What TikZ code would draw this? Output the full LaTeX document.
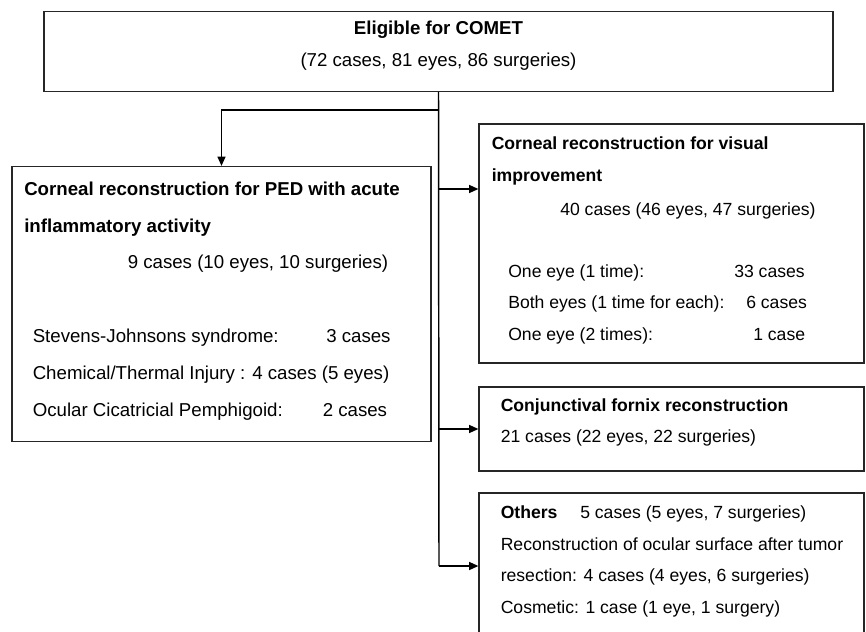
\documentclass[tikz,border=0pt]{standalone}
\usepackage{fontspec}
\setmainfont{Liberation Sans}
\usetikzlibrary{arrows.meta}
\begin{document}
\begin{tikzpicture}[x=0.75pt,y=-0.75pt,
  box/.style={draw=black!85,line width=0.9pt,inner sep=0pt},
  conn/.style={line width=1.1pt},
  arr/.style={conn,-{Triangle[length=7pt,width=6pt]}},
  txt/.style={anchor=base west,inner sep=0pt,font=\fontsize{14}{16}\selectfont},
  btxt/.style={txt,font=\fontsize{14}{16}\selectfont\bfseries},
  rtxt/.style={anchor=base west,inner sep=0pt,font=\fontsize{13.2}{16}\selectfont},
  rbtxt/.style={rtxt,font=\fontsize{13.2}{16}\selectfont\bfseries},
  ctxt/.style={txt,anchor=base}]
\useasboundingbox (0,0) rectangle (866,631);
\clip (0,0) rectangle (866,631);
% boxes
\node[box,minimum width=789*0.75pt,minimum height=80*0.75pt] (top) at (438.5,51.5) {};
\node[box,minimum width=419*0.75pt,minimum height=275*0.75pt] (left) at (221.5,304) {};
\node[box,minimum width=385*0.75pt,minimum height=239*0.75pt] (vis) at (671.5,243.5) {};
\node[box,minimum width=385*0.75pt,minimum height=84*0.75pt] (conj) at (671.5,429) {};
\node[box,minimum width=385*0.75pt,minimum height=160*0.75pt] (oth) at (671.5,573) {};
% connectors
\coordinate (jl) at (439,110);
\coordinate (jv) at (439,189);
\coordinate (jc) at (439,429);
\coordinate (jo) at (439,566);
\draw[conn] (top.south) -- (jo);
\draw[arr] (jl) -| (left.north);
\draw[arr] (jv) -- (vis.west |- jv);
\draw[arr] (jc) -- (conj.west |- jc);
\draw[arr] (jo) -- (oth.west |- jo);
% texts top
\node[ctxt,font=\fontsize{14}{16}\selectfont\bfseries] (t1) at (438.5,35) {Eligible for COMET};
\node[ctxt] (t2) at (438.5,67) {(72 cases, 81 eyes, 86 surgeries)};
% left
\node[btxt] (l1) at (24,195) {Corneal reconstruction for PED with acute};
\node[btxt] (l2) at (24,232) {inflammatory activity};
\node[txt] (l3) at (127.5,268) {9 cases (10 eyes, 10 surgeries)};
\node[txt] (l4) at (32.5,342.5) {Stevens-Johnsons syndrome:};
\node[txt] (l4b) at (326,342.5) {3 cases};
\node[txt] (l5) at (32.5,379.5) {Chemical/Thermal Injury : 4 cases (5 eyes)};
\node[txt] (l6) at (32.5,416.5) {Ocular Cicatricial Pemphigoid:};
\node[txt] (l6b) at (322.5,416.5) {2 cases};
% visual
\node[rbtxt] (v1) at (491.5,149) {Corneal reconstruction for visual};
\node[rbtxt] (v2) at (491.5,181) {improvement};
\node[rtxt] (v3) at (560,215) {40 cases (46 eyes, 47 surgeries)};
\node[rtxt] (v4) at (508,277) {One eye (1 time):};
\node[rtxt] (v4b) at (734,277) {33 cases};
\node[rtxt] (v5) at (508,308.5) {Both eyes (1 time for each):};
\node[rtxt] (v5b) at (746,308.5) {6 cases};
\node[rtxt] (v6) at (508,340.5) {One eye (2 times):};
\node[rtxt] (v6b) at (753,340.5) {1 case};
% conj
\node[rbtxt] (c1) at (500.5,411.5) {Conjunctival fornix reconstruction};
\node[rtxt] (c2) at (500.5,442.5) {21 cases (22 eyes, 22 surgeries)};
% others
\node[rbtxt] (o1) at (500.5,518) {Others};
\node[rtxt] (o1b) at (580,518) {5 cases (5 eyes, 7 surgeries)};
\node[rtxt] (o2) at (500.5,550) {Reconstruction of ocular surface after tumor};
\node[rtxt] (o3) at (500.5,581.5) {resection: 4 cases (4 eyes, 6 surgeries)};
\node[rtxt] (o4) at (500.5,613) {Cosmetic: 1 case (1 eye, 1 surgery)};
\end{tikzpicture}
\end{document}
